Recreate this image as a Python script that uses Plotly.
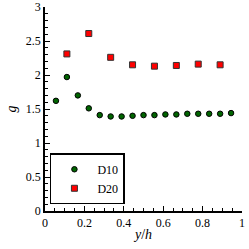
import plotly.graph_objects as go

x_d10 = [0.0556, 0.1111, 0.1667, 0.2222, 0.2778, 0.3333, 0.3889, 0.4444, 0.5,
         0.5556, 0.6111, 0.6667, 0.7222, 0.7778, 0.8333, 0.8889, 0.9444]
g_d10 = [1.62, 1.97, 1.70, 1.51, 1.41, 1.39, 1.39, 1.40, 1.41,
         1.41, 1.42, 1.42, 1.43, 1.43, 1.43, 1.43, 1.44]
x_d20 = [0.1111, 0.2222, 0.3333, 0.4444, 0.5556, 0.6667, 0.7778, 0.8889]
g_d20 = [2.31, 2.61, 2.26, 2.15, 2.13, 2.14, 2.16, 2.15]

x_ticks = [0, 0.2, 0.4, 0.6, 0.8, 1]
x_labels = ["0", "0.2", "0.4", "0.6", "0.8", "1"]
y_ticks = [0, 0.5, 1, 1.5, 2, 2.5, 3]
y_labels = ["0", "0.5", "1", "1.5", "2", "2.5", "3"]

font = "Liberation Serif"

fig = go.Figure()
fig.add_trace(go.Scatter(x=x_d10, y=g_d10, mode="markers", name="D10",
                         marker=dict(symbol="circle", size=5.5, color="#006400",
                                     line=dict(color="black", width=1))))
fig.add_trace(go.Scatter(x=x_d20, y=g_d20, mode="markers", name="D20",
                         marker=dict(symbol="square", size=6, color="#ff0000",
                                     line=dict(color="#333333", width=1))))

axis_common = dict(showline=True, linecolor="black", linewidth=1.5, ticks="inside",
                   ticklen=5, tickwidth=1, tickcolor="black", showgrid=False,
                   zeroline=False, mirror=False, automargin=False,
                   tickfont=dict(family=font, size=12, color="black"))

fig.update_layout(
    width=249, height=249,
    margin=dict(l=45, r=7, t=7, b=38),
    plot_bgcolor="white", paper_bgcolor="white",
    font=dict(family=font, size=12, color="black"),
    xaxis=dict(range=[0, 1], tickmode="array", tickvals=x_ticks, ticktext=x_labels,
               minor=dict(dtick=0.05, ticks="inside", ticklen=3, tickcolor="black"),
               title=dict(text="<i>y</i>/<i>h</i>", standoff=0,
                          font=dict(family=font, size=14)),
               **axis_common),
    yaxis=dict(range=[0, 3], tickmode="array", tickvals=y_ticks, ticktext=y_labels,
               minor=dict(dtick=0.1, ticks="inside", ticklen=3, tickcolor="black"),
               title=dict(text="<i>g</i>", standoff=6,
                          font=dict(family=font, size=14)),
               **axis_common),
    legend=dict(x=0.025, y=0.033, xanchor="left", yanchor="bottom",
                bordercolor="black", borderwidth=1.5, bgcolor="white",
                font=dict(family=font, size=12), tracegroupgap=0,
                itemwidth=36),
    showlegend=True,
)

fig.write_html("out.html", config={"displayModeBar": False},
               post_script="document.body.style.margin='0';")
